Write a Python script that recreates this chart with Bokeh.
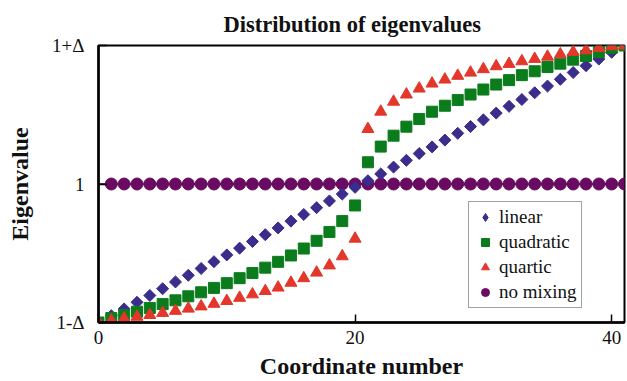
import math
from bokeh.plotting import figure
from bokeh.models import FixedTicker, Legend, LegendItem, Range1d
from bokeh.embed import file_html
from bokeh.resources import INLINE

# ---- data ----
coord = list(range(42))
linear = [-1.000, -0.951, -0.902, -0.854, -0.805, -0.756, -0.707, -0.659, -0.610, -0.561,
          -0.512, -0.463, -0.415, -0.366, -0.317, -0.268, -0.220, -0.171, -0.122, -0.073,
          -0.024, 0.024, 0.073, 0.122, 0.171, 0.220, 0.268, 0.317, 0.366, 0.415,
          0.463, 0.512, 0.561, 0.610, 0.659, 0.707, 0.756, 0.805, 0.854, 0.902,
          0.951, 1.000]
quadratic = [-1.000, -0.968, -0.946, -0.922, -0.895, -0.867, -0.840, -0.811, -0.782, -0.750,
             -0.716, -0.680, -0.643, -0.604, -0.562, -0.516, -0.466, -0.410, -0.346, -0.268,
             -0.155, 0.157, 0.270, 0.349, 0.414, 0.469, 0.522, 0.565, 0.606, 0.646,
             0.682, 0.718, 0.750, 0.786, 0.814, 0.845, 0.869, 0.898, 0.924, 0.953,
             0.982, 1.000]
quartic = [-1.000, -0.986, -0.971, -0.959, -0.946, -0.931, -0.916, -0.900, -0.884, -0.865,
           -0.845, -0.822, -0.797, -0.773, -0.748, -0.713, -0.680, -0.640, -0.588, -0.522,
           -0.395, 0.397, 0.522, 0.594, 0.646, 0.689, 0.725, 0.754, 0.781, 0.804,
           0.829, 0.850, 0.867, 0.886, 0.903, 0.919, 0.936, 0.953, 0.965, 0.982,
           0.994, 1.000]
nomix_coord = list(range(1, 42))
nomix = [0.0, 0.0, 0.0, 0.0, 0.0, 0.0, 0.0, 0.0, 0.0, 0.0,
         0.0, 0.0, 0.0, 0.0, 0.0, 0.0, 0.0, 0.0, 0.0, 0.0,
         0.0, 0.0, 0.0, 0.0, 0.0, 0.0, 0.0, 0.0, 0.0, 0.0,
         0.0, 0.0, 0.0, 0.0, 0.0, 0.0, 0.0, 0.0, 0.0, 0.0, 0.0]
nomix_line_x = [0, 41]
nomix_line_y = [0.0, 0.0]
x_ticks = [0, 20, 40]
y_ticks = [-1, 0, 1]
y_tick_labels = ["1-\u0394", "1", "1+\u0394"]
series_names = ["linear", "quadratic", "quartic", "no mixing"]

FONT = "Liberation Serif"

p = figure(width=627, height=381, output_backend="svg", toolbar_location=None,
           x_range=Range1d(0, 41), y_range=Range1d(-1, 1),
           min_border_left=98, min_border_right=3, min_border_top=44, min_border_bottom=59,
           title="Distribution of eigenvalues")

p.title.text_font = FONT
p.title.text_font_size = "22.5px"
p.title.text_font_style = "bold"
p.title.align = "left"
p.title.offset = 125
p.title.text_color = "#111111"
p.title.standoff = 18

p.xgrid.visible = False
p.ygrid.visible = False
p.outline_line_color = "black"
p.outline_line_width = 2
p.outline_line_alpha = 1

for ax in (p.xaxis[0], p.yaxis[0]):
    ax.axis_line_width = 2.5
    ax.axis_line_color = "black"
    ax.major_tick_in = 8
    ax.major_tick_out = 0
    ax.major_tick_line_width = 1.5
    ax.minor_tick_line_color = None
    ax.major_label_text_font = FONT
    ax.major_label_text_font_size = "19px"
    ax.major_label_text_color = "#111111"
    ax.axis_label_text_font = FONT
    ax.axis_label_text_font_size = "24px"
    ax.axis_label_text_font_style = "bold"
    ax.axis_label_text_color = "#111111"

p.xaxis[0].ticker = FixedTicker(ticks=x_ticks)
p.xaxis[0].axis_label = "Coordinate number"
p.xaxis[0].major_label_standoff = 8
p.xaxis[0].axis_label_standoff = 6

p.yaxis[0].ticker = FixedTicker(ticks=y_ticks)
p.yaxis[0].major_label_overrides = {t: l for t, l in zip(y_ticks, y_tick_labels)}
p.yaxis[0].axis_label = "Eigenvalue"
p.yaxis[0].major_label_standoff = 14
p.yaxis[0].axis_label_standoff = 16
p.yaxis[0].major_label_orientation = "horizontal"

# no mixing first (underneath)
p.line(nomix_line_x, nomix_line_y, line_color="black", line_width=1.5)
r_nomix = p.scatter(nomix_coord, nomix, marker="circle", size=12,
                    fill_color="#6a0b62", line_color="#6a0b62")
r_lin = p.scatter(coord, linear, marker="square", angle=math.pi / 4, size=8.5,
                  fill_color="#3b2d8c", line_color="#3b2d8c")
r_quad = p.scatter(coord, quadratic, marker="square", size=11,
                   fill_color="#0b7c1c", line_color="#0b7c1c")
r_quar = p.scatter(coord, quartic, marker="triangle", size=12,
                   fill_color="#e2372a", line_color="#e2372a")
# legend key for the diamond marker (a single NaN point, draws nothing in the plot)
r_lin_key = p.scatter(x=[float("nan")], y=[float("nan")], marker="diamond", size=15,
                      fill_color="#3b2d8c", line_color="#3b2d8c")

legend = Legend(items=[
    LegendItem(label=series_names[0], renderers=[r_lin_key]),
    LegendItem(label=series_names[1], renderers=[r_quad]),
    LegendItem(label=series_names[2], renderers=[r_quar]),
    LegendItem(label=series_names[3], renderers=[r_nomix]),
], location=(370, 14))
legend.label_text_font = FONT
legend.label_text_font_style = "normal"
legend.label_text_font_size = "19px"
legend.label_text_color = "#111111"
legend.glyph_width = 24
legend.glyph_height = 20
legend.label_height = 20
legend.label_standoff = 2
legend.spacing = 3
legend.padding = 4
legend.margin = 0
legend.border_line_color = "#444444"
legend.border_line_width = 1
legend.background_fill_color = "white"
legend.background_fill_alpha = 1
p.add_layout(legend, "center")

open("out.html", "w").write(file_html(p, INLINE))
